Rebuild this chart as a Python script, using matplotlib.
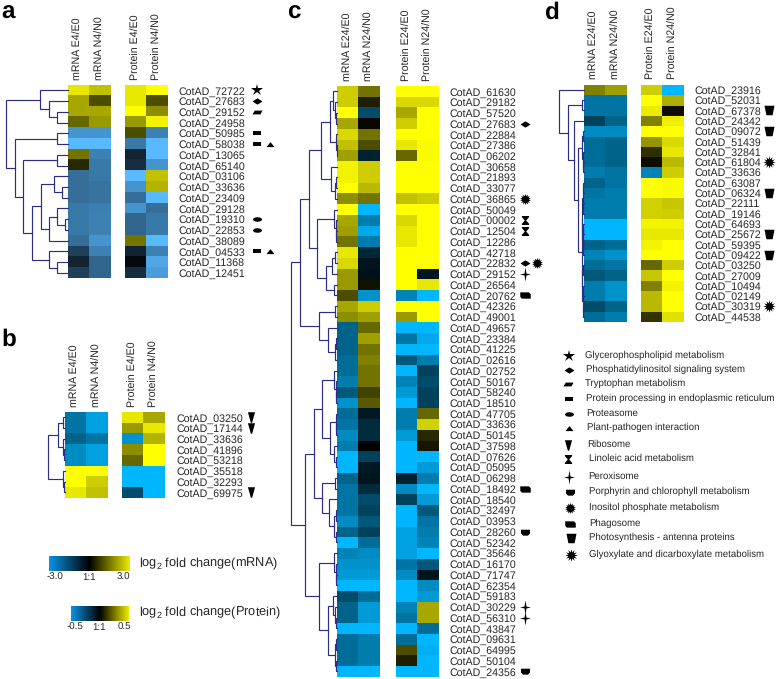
import matplotlib
matplotlib.use("Agg")
import matplotlib.pyplot as plt
import numpy as np
from matplotlib.colors import LinearSegmentedColormap
from matplotlib.path import Path
from matplotlib.transforms import Affine2D

plt.rcParams['font.family'] = ['Liberation Sans', 'DejaVu Sans']
plt.rcParams['mathtext.default'] = 'regular'
plt.rcParams['text.hinting'] = 'no_hinting'
plt.rcParams['text.hinting_factor'] = 8

W, H = 778, 679

# ---------------- data ----------------
genes_a = ["72722","27683","29152","24958","50985","58038","13065","65140","03106","33636","23409","29128","19310","22853","38089","04533","11368","12451"]
a_mrna_e = [.9,.65,.65,.4,-.8,-1,.45,.15,-.6,-.6,-.6,-.65,-.65,-.65,-.6,-.35,-.2,-.35]
a_mrna_n = [.75,.3,.65,.6,-.8,-1,-.7,-.65,-.65,-.62,-.62,-.68,-.7,-.7,-.8,-.7,-.55,-.55]
a_prot_e = [.9,.9,1,.6,.3,-.65,-.2,-.25,-1,-.8,-.6,-.8,-.55,-.55,.45,-.2,-.05,-.25]
a_prot_n = [1,.3,.55,.95,-.7,-1,-1,-.8,.75,.7,-1,-.6,-.65,-.65,-1,-.7,-.9,-.85]

genes_b = ["03250","17144","33636","41896","53218","35518","32293","69975"]
b_mrna_e = [-.55,-.55,-.45,-.7,-.7,1,1,.9]
b_mrna_n = [-.85,-.85,-.55,-.85,-.85,1,.8,.75]
b_prot_e = [.9,.6,-.75,.55,.4,-1,-1,-.35]
b_prot_n = [.65,.9,.7,1,1,-1,-1,-1]

genes_c = ["61630","29182","57520","27683","22884","27386","06202","30658","21893","33077",
           "36865","50049","00002","12504","12286","42718","22832","29152","26564","20762",
           "42326","49001","49657","23384","41225","02616","02752","50167","58240","18510",
           "47705","33636","50145","37598","07626","05095","06298","18492","18540","32497",
           "03953","28260","52342","35646","16170","71747","62354","59183","30229","56310",
           "43847","09631","64995","50104","24356"]
c_mrna_e = [.8,.8,1,.65,.85,.75,.62,.95,.95,1, .55,1,.65,.62,.45,.9,.85,.6,.6,.3,
            .65,.55,-.45,-.45,-.45,-.5,-.5,-.6,-.4,-.75, -.5,-.55,-.7,-.6,-1,-1,-.45,-.55,-.55,-.55,
            -.7,-.45,-1,-.65,-.75,-.8,-1,-.35,-.45,-.45, -1,-.5,-.5,-.5,-1]
c_mrna_n = [.45,.12,-.35,.03,.45,.3,-.15,.8,.8,.72, .45,-1,-.6,-.9,-.6,-.18,-.1,-.08,.07,-.75,
            .8,.62,.4,.62,.45,.5,.45,.45,.25,.35, -.12,-.2,-.2,0,-.3,-.12,-.1,-.2,-.35,-.3,
            -.4,-.3,-.5,-.7,-.75,-.8,-1,-.5,-.8,-.8, -1,-.6,-.6,-.6,-1]
c_prot_e = [1,.85,.65,.8,1,.9,.4,1,1,1, .75,1,.85,.9,.9,1,1,1,1,-.65,
            1,.6,-1,-.55,-1,-.4,-1,-.65,-.8,-1, -.6,-.6,-.8,-1,-1,-1,-.15,-.7,-.3,-1,
            -1,-.85,-.85,-.85,-.55,-.7,-1,-1,-.65,-.55, -1,-.5,.3,.12,-1]
c_prot_n = [1,.85,1,1,1,.98,.98,1,1,1, .8,1,1,1,1,1,1,-.1,.9,-1,
            1,1,-1,-.9,-1,-.6,-.3,-.35,-.3,-.3, .4,.82,.15,.08,-1,-.8,-.6,-1,-.8,-.4,
            -.55,-.6,-.65,-1,-.4,-.1,-.7,-.8,.65,.65, -.5,-1,-.95,-1,-1]

genes_d = ["23916","52031","67378","24342","09072","51439","32841","61804","33636","63087","06324","22111","19146","64693","25672","59395","09422","03250","27009","10494","02149","30319","44538"]
d_mrna_e = [.5,-.55,-.55,-.3,-.7,-.5,-.5,-.5,-.6,-.45,-.55,-.6,-.6,-1,-1,-.45,-.65,-.5,-.4,-.6,-.6,-.35,-.5]
d_mrna_n = [.62,-.55,-.55,-.45,-.7,-.45,-.45,-.45,-.55,-.55,-.6,-.6,-.6,-1,-1,-.5,-.75,-.55,-.45,-.75,-.75,-.45,-.6]
d_prot_e = [.8,1,.92,.5,1,.58,.18,.05,-.65,1,1,.82,.82,.95,.9,.95,1,.4,.78,.5,.72,.72,.2]
d_prot_n = [-1,.68,.05,.93,1,.85,.9,.72,.8,.98,.98,.78,.8,.95,.9,1,1,.8,1,.95,1,1,.88]

cols_a = ["mRNA E4/E0", "mRNA N4/N0", "Protein E4/E0", "Protein N4/N0"]
cols_c = ["mRNA E24/E0", "mRNA N24/N0", "Protein E24/E0", "Protein N24/N0"]

# cluster trees: (merge height, child, child); ints are rows
tree_a = (62, (28, 0, (19, 1, (11, 2, 3))),
          (53, (11, 4, 5),
           (45, (11, 6, 7),
            (36, (27, (14, 8, (6, 9, 10)), (19, (11, 11, (3, 12, 13)), 14)),
             (19, 15, (11, 16, 17))))))
tree_b = (17, (6.5, (2, 0, 1), (2, 2, (1, 3, 4))), (2, 5, (1, 6, 7)))
tree_c = (46,
          (37.7,
           (28.7,
            (16, (7.7, (4.3, 0, (2, 1, (1, 2, 3))), (1.3, 4, (.7, 5, 6))),
             (6.3, 7, (2, (1, 8, 9), 10))),
            (20, (3, 11, (1.5, 12, (1, 13, 14))),
             (11.3, (5, (2, 15, 16), 17), (3, 18, 19)))),
           (18.7, (2, 20, 21), (9.7, 22, (2.7, (1, 23, 24), 25)))),
          (32,
           (23.3,
            (15.3, (3, 26, (1.5, 27, (.8, 28, 29))),
             (7, (1.5, 30, (1, 31, 32)), (3, 33, (1.5, 34, 35)))),
            (15.3, (2, 36, 37),
             (8.7, 38, (3.7, (1.5, 39, 40), (1.5, 41, 42))))),
           (18.3, (3, 43, (1.5, 44, (.8, 45, 46))),
            (9.7, (4.3, 47, (2, 48, (1, 49, 50))),
             (2.7, (1.3, 51, 52), (1.3, 53, 54))))))
tree_d = (24.3, 0,
          (15.3, (1.7, 1, 2),
           (10, 3,
            (6, (2, (1, 4, 5), (1, 6, (.5, 7, 8))),
             (1.9,
              (1.7, (1, (.5, 9, 10), (.5, 11, 12)), (1.2, (.5, 13, 14), (.8, 15, 16))),
              (1.5, (.8, 17, 18), (1, (.5, 19, 20), (.5, 21, 22))))))))

marks_a = {"72722": ["glycero"], "27683": ["phospho"], "29152": ["trypto"], "50985": ["er"],
           "58038": ["er", "plant"], "19310": ["proteasome"], "22853": ["proteasome"], "04533": ["er", "plant"]}
marks_b = {"03250": ["ribosome"], "17144": ["ribosome"], "69975": ["ribosome"]}
marks_c = {"27683": ["phospho"], "36865": ["inositol"], "00002": ["linoleic"], "12504": ["linoleic"],
           "22832": ["phospho", "inositol"], "29152": ["peroxisome"], "20762": ["phagosome"],
           "18492": ["phagosome"], "28260": ["porphyrin"], "30229": ["peroxisome"], "56310": ["peroxisome"],
           "24356": ["porphyrin"]}
marks_d = {"67378": ["antenna"], "09072": ["antenna"], "06324": ["antenna"], "25672": ["antenna"],
           "09422": ["antenna"], "61804": ["glyoxylate"], "30319": ["glyoxylate"]}

legend_keys = ["glycero","phospho","trypto","er","proteasome","plant","ribosome","linoleic",
               "peroxisome","porphyrin","inositol","phagosome","antenna","glyoxylate"]
legend_names = ["Glycerophospholipid metabolism","Phosphatidylinositol signaling system","Tryptophan metabolism",
                "Protein processing in endoplasmic reticulum","Proteasome","Plant-pathogen interaction","Ribosome",
                "Linoleic acid metabolism","Peroxisome","Porphyrin and chlorophyll metabolism",
                "Inositol phosphate metabolism","Phagosome","Photosynthesis - antenna proteins",
                "Glyoxylate and dicarboxylate metabolism"]

# ---------------- style ----------------
def P(pts):
    pts = list(pts) + [pts[0]]
    return Path(pts, [Path.MOVETO] + [Path.LINETO] * (len(pts) - 2) + [Path.CLOSEPOLY])

ellipse = Path.unit_circle().transformed(Affine2D().scale(1, .5))
shapes = {
    "glycero": ('*', 12),
    "phospho": (P([(-1, 0), (-.35, .42), (0, .62), (.35, .42), (1, 0), (.35, -.42), (0, -.62), (-.35, -.42)]), 10),
    "trypto": (P([(-1, -.38), (-.55, .38), (1, .38), (.6, -.38)]), 10),
    "er": (P([(-1, -.62), (-1, .62), (1, .62), (1, -.62)]), 8),
    "proteasome": (ellipse, 9),
    "plant": (P([(-1, -.65), (0, .6), (1, -.65)]), 8),
    "ribosome": (P([(-.68, 1), (.68, 1), (.12, -1), (-.12, -1)]), 10.5),
    "linoleic": (P([(-.8, 1), (.8, 1), (.8, .75), (.15, 0), (.8, -.75), (.8, -1), (-.8, -1), (-.8, -.75), (-.15, 0), (-.8, .75)]), 9),
    "peroxisome": (P([(0, 1.3), (.18, .18), (1, 0), (.18, -.18), (0, -1.3), (-.18, -.18), (-1, 0), (-.18, .18)]), 14),
    "porphyrin": (P([(-1, .62), (1, .62), (1, -.2), (.55, -.7), (-.55, -.7), (-1, -.2)]), 9),
    "inositol": (Path.unit_regular_star(14, innerCircle=.62), 11),
    "phagosome": (P([(-1, .6), (.65, .6), (1, .25), (1, -.6), (-.7, -.6), (-1, -.25)]), 10.5),
    "antenna": (P([(-1, .95), (1, .95), (.62, -.95), (-.62, -.95)]), 10),
    "glyoxylate": (Path.unit_regular_star(12, innerCircle=.5), 12.5),
}

ink = "#262626"
tree_color = "#2d2d85"

def ax_px(x0, y0, x1, y1, **kw):
    """axes from pixel box (top-left origin)"""
    a = fig.add_axes([x0 / W, 1 - y1 / H, (x1 - x0) / W, (y1 - y0) / H], **kw)
    a.patch.set_alpha(0)
    return a

def cmap_with(low, mid=None):
    if mid is None:
        return LinearSegmentedColormap.from_list("c", [low, "#000000", "#ffff00"])
    return LinearSegmentedColormap.from_list("c", [low, mid, "#000000", "#808000", "#ffff00"])

def draw_tree(ax, node):
    if not isinstance(node, tuple):
        return node, 0
    h, a, b = node
    ya, ha = draw_tree(ax, a)
    yb, hb = draw_tree(ax, b)
    ax.plot([ha, h, h, hb], [ya, ya, yb, yb], color=tree_color, lw=.85, solid_joinstyle='miter', clip_on=False)
    return (ya + yb) / 2, h

def heat(box, data, cols, cmap):
    ax = ax_px(*box)
    ax.imshow(np.array(data).T, cmap=cmap, vmin=-1, vmax=1, aspect='auto', interpolation='nearest')
    ax.set_xticks(range(2))
    ax.set_xticklabels(cols, rotation=90, fontsize=7.7, color=ink)
    ax.xaxis.tick_top()
    ax.tick_params(axis='x', length=0, pad=3.8)
    ax.set_yticks([])
    for s in ax.spines.values():
        s.set_visible(False)
    return ax

def panel(letter, letter_xy, genes, m_e, m_n, p_e, p_n, cols, tree, marks, x_m, x_p, y0, y1, tree_w, marker_x, cmap):
    n = len(genes)
    heat((x_m, y0, x_m + 42.6, y1), [m_e, m_n], cols[:2], cmap)
    ax = heat((x_p, y0, x_p + 42.6, y1), [p_e, p_n], cols[2:], cmap)
    ax.yaxis.tick_right()
    ax.set_yticks(range(n))
    ax.set_yticklabels(["CotAD_" + g for g in genes], fontsize=7.7, color=ink, va='center_baseline')
    ax.tick_params(axis='y', length=0, pad=8)
    # dendrogram
    t = ax_px(x_m - tree_w, y0, x_m, y1)
    t.set_xlim(tree_w, 0)
    t.set_ylim(n - .5, -.5)
    t.axis('off')
    draw_tree(t, tree)
    # pathway symbols
    o = ax_px(x_p + 42.6, y0, marker_x[-1] + 8, y1)
    o.set_xlim(x_p + 42.6, marker_x[-1] + 8)
    o.set_ylim(n - .5, -.5)
    o.axis('off')
    for g, keys in marks.items():
        for k, key in enumerate(keys):
            shape, size = shapes[key]
            o.plot(marker_x[k], genes.index(g), marker=shape, ms=size * .72, color='black', mew=0, clip_on=False)
    fig.text(letter_xy[0] / W, 1 - letter_xy[1] / H, letter, fontsize=17.5, fontweight='bold',
             color='black', va='center', ha='left')

fig = plt.figure(figsize=(W / 100, H / 100), dpi=100, facecolor='white')

blue = "#00b7ff"
mid_blue = "#006e99"
panel('a', (1, 13), genes_a, a_mrna_e, a_mrna_n, a_prot_e, a_prot_n, cols_a, tree_a, marks_a,
      67.7, 125, 85, 278.3, 66, [257, 270], cmap_with("#58b9ff"))
panel('b', (1, 340), genes_b, b_mrna_e, b_mrna_n, b_prot_e, b_prot_n, cols_a, tree_b, marks_b,
      64.7, 122.3, 412, 497.7, 20, [250.7], cmap_with(blue, mid_blue))
panel('c', (287, 13), genes_c, c_mrna_e, c_mrna_n, c_prot_e, c_prot_n, cols_c, tree_c, marks_c,
      337.3, 396, 86, 676.7, 50, [525, 537], cmap_with(blue, mid_blue))
panel('d', (545, 13), genes_d, d_mrna_e, d_mrna_n, d_prot_e, d_prot_n, cols_c, tree_d, marks_d,
      583.7, 640.7, 84.7, 321.7, 28, [769], cmap_with(blue, mid_blue))

# colour keys
key_cmap = LinearSegmentedColormap.from_list("k", ["#0a93e6", "#000000", "#eeee00"])
def key(box, ticks, labels, title):
    ax = ax_px(*box)
    ax.imshow(np.linspace(ticks[0] * 1.18, ticks[-1] * 1.18, 256)[None, :], cmap=key_cmap, aspect='auto',
              extent=[ticks[0] * 1.18, ticks[-1] * 1.18, 0, 1], vmin=ticks[0] * 1.18, vmax=ticks[-1] * 1.18)
    ax.set_xticks(ticks)
    ax.set_xticklabels(labels, fontsize=7, color=ink)
    ax.tick_params(axis='x', length=0, pad=1.5)
    ax.set_yticks([])
    for s in ax.spines.values():
        s.set_visible(False)
    fig.text(139 / W, 1 - (box[1] + box[3]) / 2 / H, title, fontsize=9.2, color=ink, va='center', ha='left')

key((49, 556, 129.7, 571), [-3.0, 0, 3.0], ["-3.0", "1:1", "3.0"], "log$_2$ fold change(mRNA)")
key((70.7, 606, 128.3, 620.7), [-0.5, 0, 0.5], ["-0.5", "1:1", "0.5"], "log$_2$ fold change(Protein)")

# pathway legend
leg = ax_px(540, 340, 778, 580)
leg.set_xlim(540, 778)
leg.set_ylim(580, 340)
leg.axis('off')
legend_y = [356, 370, 384.3, 399, 414, 428.3, 444.7, 459.3, 476.7, 492, 507.7, 524, 538.3, 555]
legend_mx = [569, 569, 567.7, 569, 569, 569, 568.3, 568.3, 569, 570, 570, 570, 571, 571]
legend_tx = [585, 585.7, 585, 586, 586.7, 587, 587.7, 588.7, 588.7, 589, 589, 589, 589, 589]
for key_name, name, y, mx, tx in zip(legend_keys, legend_names, legend_y, legend_mx, legend_tx):
    shape, size = shapes[key_name]
    leg.plot(mx, y, marker=shape, ms=size * .72, color='black', mew=0)
    leg.text(tx, y - .5, name, fontsize=6.9, color=ink, va='center', ha='left')

fig.savefig("out.png", dpi=100, facecolor='white')
